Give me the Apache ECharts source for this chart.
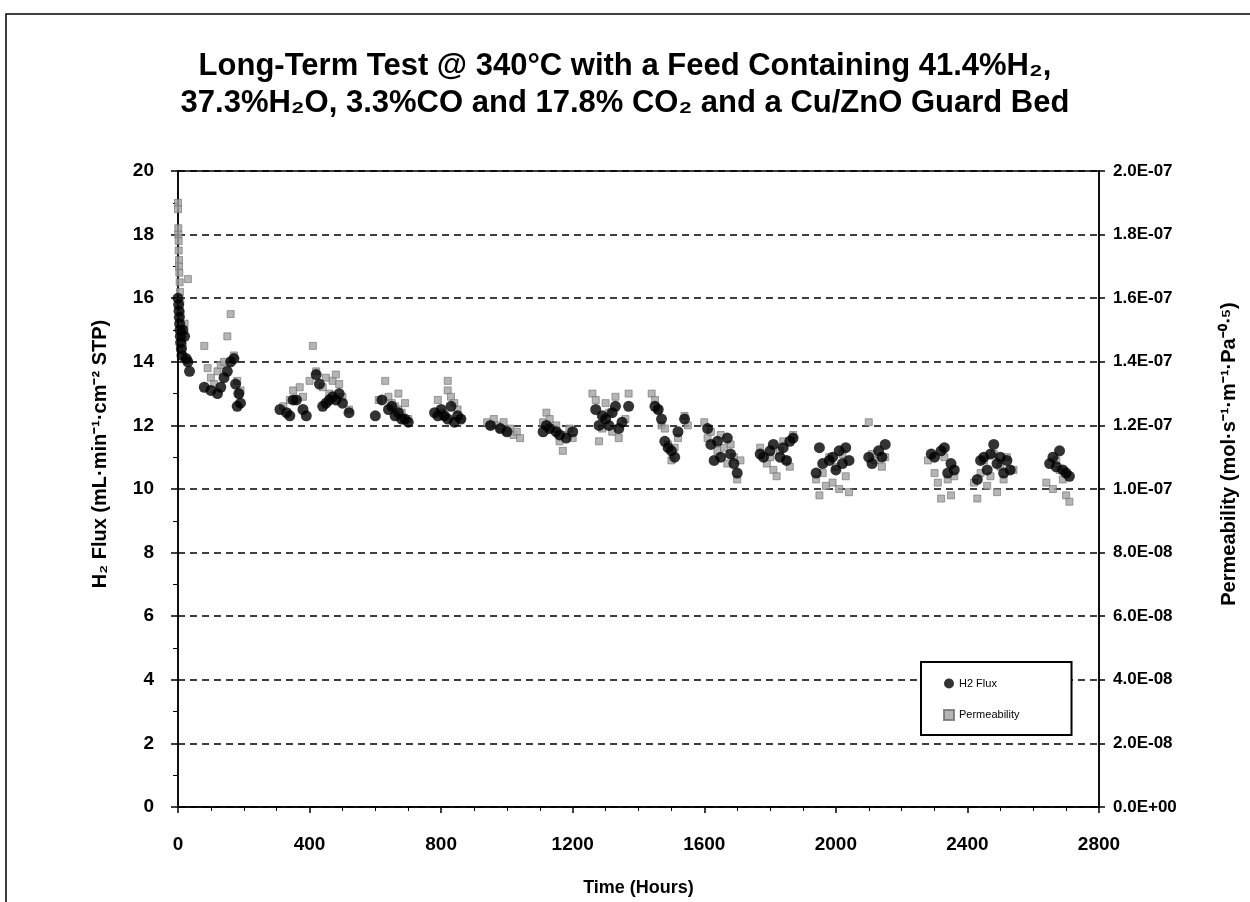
<!DOCTYPE html>
<html>
<head>
<meta charset="utf-8">
<script src="https://cdn.jsdelivr.net/npm/echarts@6/dist/echarts.min.js"></script>
<style>
  html, body { margin: 0; padding: 0; background: #fff; }
  #chart { width: 1250px; height: 902px; }
</style>
</head>
<body>
<div id="chart"></div>
<script>
// Time (hours) and H2 flux (mL/min/cm2 STP) — black circles
const fluxHours = [
  0, 2, 3, 4, 5, 6, 7, 8, 10, 12, 15, 20, 25, 30, 35,
  80, 100, 120, 130, 140, 150, 160, 170, 175, 180, 185, 190,
  310, 330, 340, 350, 360, 380, 390,
  420, 430, 440, 450, 460, 470, 480, 490, 500, 520,
  600, 620, 640, 650, 660, 670, 680, 690, 700,
  780, 790, 800, 810, 820, 830, 840, 850, 860,
  950, 980, 1000,
  1110, 1120, 1130, 1150, 1160, 1180, 1200,
  1270, 1280, 1290, 1300, 1310, 1320, 1330, 1340, 1350, 1370,
  1450, 1460, 1470, 1480, 1490, 1500, 1510, 1520, 1540,
  1610, 1620, 1630, 1640, 1650, 1670, 1680, 1690, 1700,
  1770, 1780, 1800, 1810, 1830, 1840, 1850, 1860, 1870,
  1940, 1950, 1960, 1980, 1990, 2000, 2010, 2020, 2030, 2040,
  2100, 2110, 2130, 2140, 2150,
  2290, 2300, 2320, 2330, 2340, 2350, 2360,
  2430, 2440, 2450, 2460, 2470, 2480, 2490, 2500, 2510, 2520, 2530,
  2650, 2660, 2670, 2680, 2690, 2700, 2710
];
const fluxValues = [
  16.0, 15.8, 15.6, 15.4, 15.2, 15.0, 14.8, 14.6, 14.4, 14.2, 15.0, 14.8, 14.1, 14.0, 13.7,
  13.2, 13.1, 13.0, 13.2, 13.5, 13.7, 14.0, 14.1, 13.3, 12.6, 13.0, 12.7,
  12.5, 12.4, 12.3, 12.8, 12.8, 12.5, 12.3,
  13.6, 13.3, 12.6, 12.7, 12.8, 12.9, 12.8, 13.0, 12.7, 12.4,
  12.3, 12.8, 12.5, 12.6, 12.3, 12.4, 12.2, 12.2, 12.1,
  12.4, 12.3, 12.5, 12.3, 12.2, 12.6, 12.1, 12.3, 12.2,
  12.0, 11.9, 11.8,
  11.8, 12.0, 11.9, 11.8, 11.7, 11.6, 11.8,
  12.5, 12.0, 12.3, 12.2, 12.0, 12.4, 12.6, 11.9, 12.1, 12.6,
  12.6, 12.5, 12.2, 11.5, 11.3, 11.2, 11.0, 11.8, 12.2,
  11.9, 11.4, 10.9, 11.5, 11.0, 11.6, 11.1, 10.8, 10.5,
  11.1, 11.0, 11.2, 11.4, 11.0, 11.3, 10.9, 11.5, 11.6,
  10.5, 11.3, 10.8, 10.9, 11.0, 10.6, 11.2, 10.8, 11.3, 10.9,
  11.0, 10.8, 11.2, 11.0, 11.4,
  11.1, 11.0, 11.2, 11.3, 10.5, 10.8, 10.6,
  10.3, 10.9, 11.0, 10.6, 11.1, 11.4, 10.8, 11.0, 10.5, 10.9, 10.6,
  10.8, 11.0, 10.7, 11.2, 10.6, 10.5, 10.4
];

// Time (hours) and permeability (mol/s/m/Pa^0.5) — grey squares
const permHours = [
  0, 0, 1, 1, 2, 2, 3, 3, 4, 5, 6, 7, 8, 10, 12, 15, 20, 30,
  80, 90, 100, 110, 120, 130, 140, 150, 160, 170, 180, 185, 190,
  320, 340, 350, 370, 380, 400,
  410, 420, 440, 450, 460, 470, 480, 490, 500, 520,
  610, 630, 640, 650, 660, 670, 670, 680, 690, 700,
  790, 800, 810, 820, 820, 830, 840, 850, 860,
  940, 950, 960, 970, 980, 990, 1000, 1010, 1020, 1030, 1040,
  1110, 1120, 1130, 1140, 1150, 1160, 1170, 1180, 1190, 1200,
  1260, 1270, 1280, 1290, 1300, 1310, 1320, 1330, 1340, 1360, 1370,
  1440, 1450, 1460, 1470, 1480, 1490, 1500, 1510, 1520, 1540, 1550,
  1600, 1610, 1620, 1640, 1650, 1660, 1670, 1680, 1690, 1700, 1710,
  1770, 1790, 1800, 1810, 1820, 1830, 1840, 1850, 1860, 1870,
  1940, 1950, 1960, 1970, 1980, 1990, 2000, 2010, 2020, 2030, 2040,
  2100, 2110, 2120, 2140, 2150,
  2280, 2300, 2310, 2320, 2330, 2340, 2350, 2360,
  2420, 2430, 2440, 2450, 2460, 2470, 2480, 2490, 2500, 2510, 2520, 2540,
  2640, 2660, 2670, 2680, 2690, 2700, 2710
];
const permValues = [
  1.90e-7, 1.88e-7, 1.82e-7, 1.80e-7, 1.78e-7, 1.75e-7, 1.72e-7, 1.70e-7, 1.68e-7, 1.65e-7, 1.62e-7, 1.59e-7, 1.55e-7, 1.50e-7, 1.47e-7, 1.45e-7, 1.52e-7, 1.66e-7,
  1.45e-7, 1.38e-7, 1.35e-7, 1.33e-7, 1.37e-7, 1.39e-7, 1.40e-7, 1.48e-7, 1.55e-7, 1.42e-7, 1.34e-7, 1.30e-7, 1.31e-7,
  1.26e-7, 1.28e-7, 1.31e-7, 1.32e-7, 1.29e-7, 1.34e-7,
  1.45e-7, 1.37e-7, 1.32e-7, 1.35e-7, 1.30e-7, 1.34e-7, 1.36e-7, 1.33e-7, 1.29e-7, 1.25e-7,
  1.28e-7, 1.34e-7, 1.29e-7, 1.27e-7, 1.26e-7, 1.25e-7, 1.30e-7, 1.24e-7, 1.27e-7, 1.22e-7,
  1.28e-7, 1.24e-7, 1.23e-7, 1.31e-7, 1.34e-7, 1.29e-7, 1.27e-7, 1.25e-7, 1.22e-7,
  1.21e-7, 1.20e-7, 1.22e-7, 1.20e-7, 1.19e-7, 1.21e-7, 1.18e-7, 1.19e-7, 1.17e-7, 1.18e-7, 1.16e-7,
  1.21e-7, 1.24e-7, 1.22e-7, 1.19e-7, 1.20e-7, 1.15e-7, 1.12e-7, 1.17e-7, 1.19e-7, 1.16e-7,
  1.30e-7, 1.28e-7, 1.15e-7, 1.19e-7, 1.27e-7, 1.24e-7, 1.18e-7, 1.29e-7, 1.16e-7, 1.22e-7, 1.30e-7,
  1.30e-7, 1.28e-7, 1.25e-7, 1.20e-7, 1.19e-7, 1.14e-7, 1.09e-7, 1.13e-7, 1.16e-7, 1.23e-7, 1.20e-7,
  1.21e-7, 1.16e-7, 1.18e-7, 1.12e-7, 1.17e-7, 1.13e-7, 1.08e-7, 1.14e-7, 1.10e-7, 1.03e-7, 1.09e-7,
  1.13e-7, 1.08e-7, 1.10e-7, 1.06e-7, 1.04e-7, 1.12e-7, 1.15e-7, 1.09e-7, 1.07e-7, 1.17e-7,
  1.03e-7, 0.98e-7, 1.05e-7, 1.01e-7, 1.10e-7, 1.02e-7, 1.07e-7, 1.00e-7, 1.11e-7, 1.04e-7, 0.99e-7,
  1.21e-7, 1.11e-7, 1.09e-7, 1.07e-7, 1.10e-7,
  1.09e-7, 1.05e-7, 1.02e-7, 0.97e-7, 1.10e-7, 1.03e-7, 0.98e-7, 1.04e-7,
  1.02e-7, 0.97e-7, 1.05e-7, 1.09e-7, 1.01e-7, 1.04e-7, 1.11e-7, 0.99e-7, 1.07e-7, 1.03e-7, 1.10e-7, 1.06e-7,
  1.02e-7, 1.00e-7, 1.09e-7, 1.06e-7, 1.03e-7, 0.98e-7, 0.96e-7
];

const FONT = "Liberation Sans, Arial, sans-serif";

const chart = echarts.init(document.getElementById("chart"));

// E-notation like Excel: 2.0E-07
function sciLabel(v) {
  const s = Number(v).toExponential(1).toUpperCase();
  const m = s.match(/^(.*)E([+-])(\d+)$/);
  return m[1] + "E" + m[2] + m[3].padStart(2, "0");
}

const option = {
  animation: false,
  backgroundColor: "#fff",
  title: {
    text: "Long-Term Test @ 340\u00B0C with a Feed Containing 41.4%H\u2082,\n37.3%H\u2082O, 3.3%CO and 17.8% CO\u2082 and a Cu/ZnO Guard Bed",
    left: "center",
    top: 43,
    textStyle: { fontFamily: FONT, fontSize: 31, fontWeight: "bold", color: "#000", lineHeight: 37 }
  },
  graphic: [{
    type: "rect",
    shape: { x: 6, y: 14, width: 1270, height: 920 },
    style: { fill: "none", stroke: "#000", lineWidth: 1.5 }
  }],
  legend: {
    orient: "vertical",
    left: 921,
    top: 662,
    padding: [16, 52, 14, 22],
    itemGap: 20,
    itemWidth: 10,
    itemHeight: 10,
    borderColor: "#000",
    borderWidth: 2,
    backgroundColor: "#fff",
    textStyle: { fontFamily: FONT, fontSize: 11, color: "#000" },
    data: [
      { name: "H2 Flux", icon: "circle" },
      { name: "Permeability", icon: "rect" }
    ]
  },
  grid: {
    left: 178, right: 151, top: 171, bottom: 94,
    show: true, borderColor: "#000", borderWidth: 1.5
  },
  xAxis: {
    type: "value",
    min: 0, max: 2800, interval: 400,
    name: "Time (Hours)",
    nameLocation: "middle",
    nameGap: 72,
    nameTextStyle: { fontFamily: FONT, fontSize: 18, fontWeight: "bold", color: "#000" },
    axisLine: { show: true, lineStyle: { color: "#000", width: 1.5 } },
    axisTick: { show: true, length: 6, lineStyle: { color: "#000", width: 1.5 } },
    minorTick: { show: true, splitNumber: 4, length: 4, lineStyle: { color: "#000", width: 1 } },
    axisLabel: { margin: 28, fontFamily: FONT, fontSize: 19, fontWeight: "bold", color: "#000", formatter: v => String(v) },
    splitLine: { show: false }
  },
  yAxis: [{
    type: "value",
    min: 0, max: 20, interval: 2,
    name: "H\u2082 Flux (mL\u00B7min\u207B\u00B9\u00B7cm\u207B\u00B2 STP)",
    nameLocation: "middle",
    nameGap: 68,
    nameTextStyle: { fontFamily: FONT, fontSize: 20, fontWeight: "bold", color: "#000", padding: [0, 0, 0, 70] },
    axisLine: { show: true, lineStyle: { color: "#000", width: 1.5 } },
    axisTick: { show: true, length: 7, lineStyle: { color: "#000", width: 1.5 } },
    minorTick: { show: true, splitNumber: 2, length: 5, lineStyle: { color: "#000", width: 1 } },
    axisLabel: { margin: 24, fontFamily: FONT, fontSize: 19, fontWeight: "bold", color: "#000" },
    splitLine: { show: true, lineStyle: { color: "#000", width: 1.5, type: [7, 5] } }
  }, {
    type: "value",
    position: "right",
    min: 0, max: 2e-7, interval: 2e-8,
    name: "Permeability (mol\u00B7s\u207B\u00B9\u00B7m\u207B\u00B9\u00B7Pa\u207B\u2070\u22C5\u2075)",
    nameLocation: "middle",
    nameGap: 120,
    nameRotate: 90,
    nameTextStyle: { fontFamily: FONT, fontSize: 20, fontWeight: "bold", color: "#000", padding: [0, 0, 0, 70] },
    axisLine: { show: true, lineStyle: { color: "#000", width: 1.5 } },
    axisTick: { show: true, length: 6, lineStyle: { color: "#000", width: 1.5 } },
    axisLabel: { margin: 14, fontFamily: FONT, fontSize: 17, fontWeight: "bold", color: "#000", formatter: sciLabel },
    splitLine: { show: false }
  }],
  series: [{
    name: "Permeability",
    type: "scatter",
    yAxisIndex: 1,
    symbol: "rect",
    symbolSize: 7,
    itemStyle: { color: "#a3a3a3", borderColor: "#6f6f6f", borderWidth: 0.8 },
    data: permHours.map((h, i) => [h, permValues[i]]),
    z: 2
  }, {
    name: "H2 Flux",
    type: "scatter",
    yAxisIndex: 0,
    symbol: "circle",
    symbolSize: 11,
    itemStyle: { color: "#000" },
    data: fluxHours.map((h, i) => [h, fluxValues[i]]),
    z: 3
  }]
};

chart.setOption(option);
</script>
</body>
</html>
